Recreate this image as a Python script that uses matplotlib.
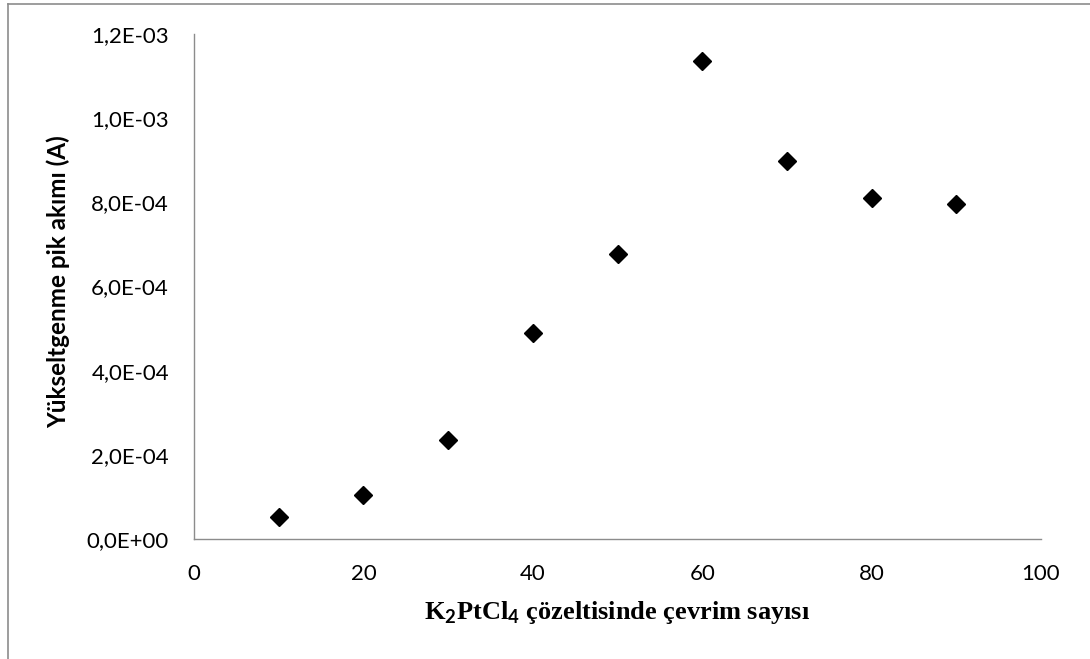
import matplotlib
matplotlib.use("Agg")
import matplotlib.pyplot as plt
from matplotlib.lines import Line2D

plt.rcParams['font.family'] = ['Lato', 'DejaVu Sans']
plt.rcParams['mathtext.fontset'] = 'custom'
plt.rcParams['mathtext.rm'] = 'Lato:bold'
plt.rcParams['mathtext.bf'] = 'Lato:bold'

cevrim = [10, 20, 30, 40, 50, 60, 70, 80, 90]
akim = [5.2e-5, 1.05e-4, 2.35e-4, 4.9e-4, 6.77e-4, 1.137e-3, 8.99e-4, 8.11e-4, 7.97e-4]
x_ticks = [0, 20, 40, 60, 80, 100]
y_ticks = [0, 2e-4, 4e-4, 6e-4, 8e-4, 1.0e-3, 1.2e-3]
y_labels = ["0,0E+00", "2,0E-04", "4,0E-04", "6,0E-04", "8,0E-04", "1,0E-03", "1,2E-03"]

W, H = 1090, 659
fig = plt.figure(figsize=(W / 100, H / 100), dpi=100)
ax = fig.add_axes([194 / W, 1 - 539 / H, (1041 - 194) / W, (539 - 34) / H])

ax.plot(cevrim, akim, ls='none', marker='D', ms=9.6, color='black')

ax.set_xlim(0, 100)
ax.set_ylim(0, 1.2e-3)
ax.set_xticks(x_ticks)
ax.set_yticks(y_ticks)
ax.set_yticklabels(y_labels)
ax.tick_params(length=0, labelsize=16, colors='black')
ax.tick_params(axis='y', pad=18)
ax.tick_params(axis='x', pad=18)

for s in ['top', 'right']:
    ax.spines[s].set_visible(False)
for s in ['left', 'bottom']:
    ax.spines[s].set_color('#8c8c8c')
    ax.spines[s].set_linewidth(1.0)

fig.text(58 / W, 1 - 282 / H, "Yükseltgenme pik akımı (A)", rotation=90,
         ha='center', va='center', fontsize=17.5, fontweight='bold')
fig.text(617 / W, 1 - 613 / H,
         r"K$_\mathbf{2}$PtCl$_\mathbf{4}$ çözeltisinde çevrim sayısı",
         ha='center', va='center', fontsize=19, fontweight='bold',
         family=['Liberation Serif'])

# outer chart border (top and left only visible)
fig.add_artist(Line2D([8 / W, 8 / W], [0, 1 - 4 / H], transform=fig.transFigure,
                      color='#8c8c8c', lw=1.2))
fig.add_artist(Line2D([8 / W, 1], [1 - 4 / H, 1 - 4 / H], transform=fig.transFigure,
                      color='#8c8c8c', lw=1.2))

fig.savefig("out.png", dpi=100)
